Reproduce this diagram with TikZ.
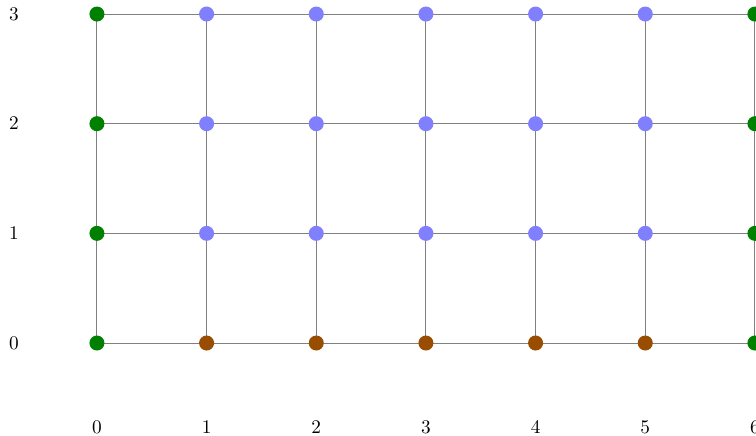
\documentclass[tikz,border=0pt]{standalone}
\usetikzlibrary{calc, positioning}

\definecolor{edgegreen}{RGB}{0,128,0}
\definecolor{innerblue}{RGB}{128,128,255}
\definecolor{basebrown}{RGB}{153,77,0}

\tikzset{
  dot/.style={circle, inner sep=0pt, minimum size=7.8pt},
  gridline/.style={gray, line width=0.5pt},
}

\begin{document}
\begin{tikzpicture}[x=2cm, y=2cm]
\useasboundingbox (-0.884,-0.839) rectangle (6.01,3.128);
\foreach \i in {0,...,6}
  \foreach \j in {0,...,3}
    \coordinate (p\i\j) at (\i,\j);

\foreach \i in {0,...,6}
  \draw[gridline] (p\i0) -- (p\i3);
\foreach \j in {0,...,3}
  \draw[gridline] (p0\j) -- (p6\j);

% boundary points
\foreach \j in {0,...,3} {
  \node[dot, fill=edgegreen] (l\j) at (p0\j) {};
  \node[dot, fill=edgegreen] (r\j) at (p6\j) {};
}
% bottom points
\foreach \i in {1,...,5}
  \node[dot, fill=basebrown] (b\i) at (p\i0) {};
% interior points
\foreach \i in {1,...,5}
  \foreach \j in {1,...,3}
    \node[dot, fill=innerblue] (q\i\j) at (p\i\j) {};

% axis labels
\foreach \i in {0,...,6}
  \node (xl\i) at (\i,-0.766) {$\i$};
\foreach \j in {0,...,3}
  \node (yl\j) at (-0.757,\j) {$\j$};
\end{tikzpicture}
\end{document}
